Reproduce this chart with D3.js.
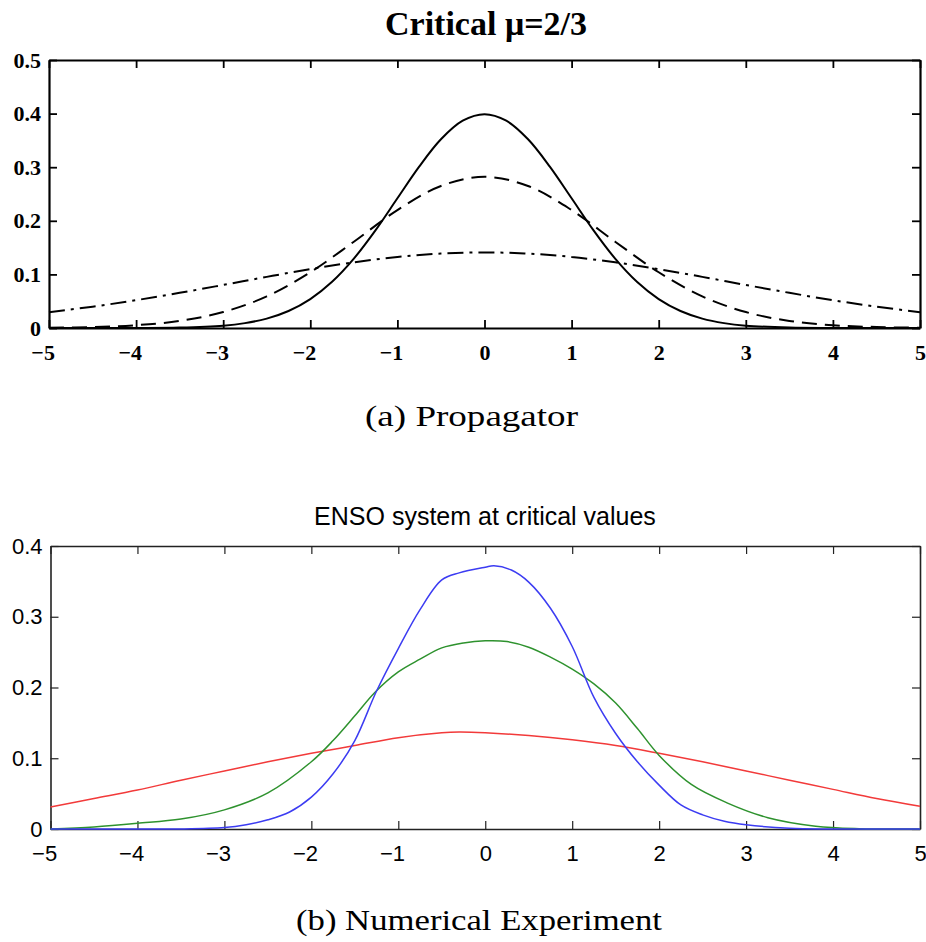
<!DOCTYPE html>
<html>
<head>
<meta charset="utf-8">
<script src="https://cdn.jsdelivr.net/npm/d3@7"></script>
<style>
  body { margin: 0; background: #fff; }
</style>
</head>
<body>
<div id="chart"></div>
<script>
// (a) propagator curves
const solidX = [-5, -4, -3.5, -3, -2.75, -2.5, -2.25, -2, -1.75, -1.5, -1.25, -1, -0.75, -0.5, -0.25, 0, 0.25, 0.5, 0.75, 1, 1.25, 1.5, 1.75, 2, 2.25, 2.5, 2.75, 3, 3.5, 4, 5];
const propSolid = [0, 0.0001, 0.0009, 0.0044, 0.0091, 0.0175, 0.0317, 0.054, 0.0863, 0.1295, 0.1826, 0.242, 0.3011, 0.3521, 0.3867, 0.3989, 0.3867, 0.3521, 0.3011, 0.242, 0.1826, 0.1295, 0.0863, 0.054, 0.0317, 0.0175, 0.0091, 0.0044, 0.0009, 0.0001, 0];
const propX = [-5, -4.5, -4, -3.5, -3, -2.5, -2, -1.5, -1, -0.5, 0, 0.5, 1, 1.5, 2, 2.5, 3, 3.5, 4, 4.5, 5];
const propDashed = [0.0005, 0.0018, 0.0052, 0.0132, 0.0297, 0.059, 0.104, 0.161, 0.220, 0.265, 0.282, 0.265, 0.220, 0.161, 0.104, 0.059, 0.0297, 0.0132, 0.0052, 0.0018, 0.0005];
const propDashDot = [0.0296, 0.0398, 0.0519, 0.0656, 0.0803, 0.0954, 0.1098, 0.1225, 0.1325, 0.1388, 0.141, 0.1388, 0.1325, 0.1225, 0.1098, 0.0954, 0.0803, 0.0656, 0.0519, 0.0398, 0.0296];

// (b) numerical experiment
const blueX = [-5, -4, -3.5, -3, -2.75, -2.5, -2.25, -2, -1.75, -1.5, -1.25, -1, -0.75, -0.5, -0.3, 0, 0.1, 0.3, 0.5, 0.75, 1, 1.25, 1.5, 1.75, 2, 2.25, 2.5, 2.75, 3, 3.5, 4, 5];
const blueY = [0, 0, 0, 0.002, 0.006, 0.013, 0.024, 0.045, 0.078, 0.125, 0.195, 0.255, 0.31, 0.352, 0.362, 0.370, 0.372, 0.366, 0.349, 0.312, 0.258, 0.186, 0.135, 0.095, 0.062, 0.034, 0.020, 0.011, 0.006, 0.001, 0, 0];
const greenX = [-5, -4.5, -4, -3.5, -3, -2.5, -2, -1.75, -1.5, -1.27, -1, -0.75, -0.5, -0.25, 0, 0.25, 0.5, 0.75, 1, 1.25, 1.5, 1.75, 2, 2.37, 2.78, 3.25, 3.8, 4.3, 5];
const greenY = [0, 0.003, 0.008, 0.014, 0.027, 0.051, 0.095, 0.125, 0.16, 0.193, 0.222, 0.24, 0.256, 0.263, 0.266, 0.265, 0.257, 0.243, 0.226, 0.205, 0.178, 0.142, 0.104, 0.063, 0.037, 0.016, 0.004, 0.0005, 0];
const redX = [-5, -4.5, -4, -3.5, -3, -2.5, -2, -1.5, -1, -0.5, -0.3, 0, 0.5, 1, 1.5, 2, 2.5, 3, 3.5, 4, 4.5, 5];
const redY = [0.031, 0.043, 0.055, 0.069, 0.082, 0.095, 0.107, 0.118, 0.129, 0.136, 0.137, 0.136, 0.132, 0.126, 0.118, 0.107, 0.095, 0.082, 0.069, 0.056, 0.043, 0.032];

// ticks
const xTicks = [-5, -4, -3, -2, -1, 0, 1, 2, 3, 4, 5];
const xTickLabels = ["\u22125", "\u22124", "\u22123", "\u22122", "\u22121", "0", "1", "2", "3", "4", "5"];
const propYTicks = [0, 0.1, 0.2, 0.3, 0.4, 0.5];
const propYLabels = ["0", "0.1", "0.2", "0.3", "0.4", "0.5"];
const ensoYTicks = [0, 0.1, 0.2, 0.3, 0.4];
const ensoYLabels = ["0", "0.1", "0.2", "0.3", "0.4"];

const width = 926, height = 942;

const svg = d3.select("#chart")
  .append("svg")
  .attr("width", width)
  .attr("height", height);

// draws the 4-sided matlab style box with inward ticks
function drawAxes(x, y, yTicks, yLabels, opt) {
  const g = svg.append("g");
  const [x0, x1] = x.range();
  const [y0, y1] = y.range(); // y0 bottom, y1 top

  const bottom = g.append("g")
    .attr("transform", `translate(0, ${y0})`)
    .call(d3.axisBottom(x).tickValues(xTicks).tickSize(-8).tickSizeOuter(0)
      .tickPadding(opt.xPad).tickFormat((d, i) => xTickLabels[i]));
  g.append("g")
    .attr("transform", `translate(0, ${y1})`)
    .call(d3.axisTop(x).tickValues(xTicks).tickSize(-8).tickSizeOuter(0).tickFormat(""));
  g.append("g")
    .attr("transform", `translate(${x0}, 0)`)
    .call(d3.axisLeft(y).tickValues(yTicks).tickSize(-8).tickSizeOuter(0)
      .tickPadding(8).tickFormat((d, i) => yLabels[i]));
  g.append("g")
    .attr("transform", `translate(${x1}, 0)`)
    .call(d3.axisRight(y).tickValues(yTicks).tickSize(-8).tickSizeOuter(0).tickFormat(""));

  g.selectAll("path.domain").attr("stroke", opt.color).attr("stroke-width", opt.frameWidth);
  g.selectAll(".tick line").attr("stroke", opt.color).attr("stroke-width", opt.tickWidth);
  g.selectAll("text")
    .attr("fill", "#000")
    .style("font-family", opt.font)
    .style("font-size", opt.fontSize + "px")
    .style("font-weight", opt.weight);
  // minus sign hangs to the left of the digit
  bottom.selectAll(".tick text").attr("dx", (d) => (d < 0 ? "-0.29em" : 0));
  return g;
}

function drawLine(xv, yv, x, y, stroke, w, dash) {
  const data = xv.map((v, i) => ({ x: v, y: yv[i] }));
  const line = d3.line()
    .x((d) => x(d.x))
    .y((d) => Math.min(y(d.y), y(0)))
    .curve(d3.curveCatmullRom.alpha(0.5));
  svg.append("path")
    .datum(data)
    .attr("d", line)
    .attr("fill", "none")
    .attr("stroke", stroke)
    .attr("stroke-width", w)
    .attr("stroke-linejoin", "round")
    .attr("stroke-dasharray", dash || null);
}

// ---- panel (a)
const xA = d3.scaleLinear().domain([-5, 5]).range([49, 920]);
const yA = d3.scaleLinear().domain([0, 0.5]).range([328, 60]);

drawLine(propX, propDashDot, xA, yA, "#000", 2, "16,6,3,6");
drawLine(propX, propDashed, xA, yA, "#000", 2, "15,8");
drawLine(solidX, propSolid, xA, yA, "#000", 2);

drawAxes(xA, yA, propYTicks, propYLabels, {
  font: "'Liberation Serif', 'Times New Roman', serif",
  fontSize: 22, weight: "bold", xPad: 16,
  color: "#000", frameWidth: 2.2, tickWidth: 1.8
});

svg.append("text")
  .attr("x", 486).attr("y", 35)
  .attr("text-anchor", "middle")
  .style("font-family", "'Liberation Serif', 'Times New Roman', serif")
  .style("font-weight", "bold")
  .style("font-size", "34px")
  .text("Critical \u03bc=2/3");

svg.append("text")
  .attr("x", 365).attr("y", 426)
  .attr("textLength", 213)
  .attr("lengthAdjust", "spacingAndGlyphs")
  .style("font-family", "'Liberation Serif', 'Times New Roman', serif")
  .style("font-size", "30px")
  .text("(a) Propagator");

// ---- panel (b)
const xB = d3.scaleLinear().domain([-5, 5]).range([50.5, 920]);
const yB = d3.scaleLinear().domain([0, 0.4]).range([829, 546]);

drawAxes(xB, yB, ensoYTicks, ensoYLabels, {
  font: "'Liberation Sans', Arial, sans-serif",
  fontSize: 22, weight: "normal", xPad: 16,
  color: "#222", frameWidth: 1.6, tickWidth: 1.2
});

drawLine(redX, redY, xB, yB, "#f23a3a", 1.5);
drawLine(greenX, greenY, xB, yB, "#2e922e", 1.5);
drawLine(blueX, blueY, xB, yB, "#3c3cf2", 1.5);

svg.append("text")
  .attr("x", 485).attr("y", 525)
  .attr("text-anchor", "middle")
  .style("font-family", "'Liberation Sans', Arial, sans-serif")
  .style("font-size", "25px")
  .text("ENSO system at critical values");

svg.append("text")
  .attr("x", 296).attr("y", 930)
  .attr("textLength", 366)
  .attr("lengthAdjust", "spacingAndGlyphs")
  .style("font-family", "'Liberation Serif', 'Times New Roman', serif")
  .style("font-size", "30px")
  .text("(b) Numerical Experiment");
</script>
</body>
</html>
